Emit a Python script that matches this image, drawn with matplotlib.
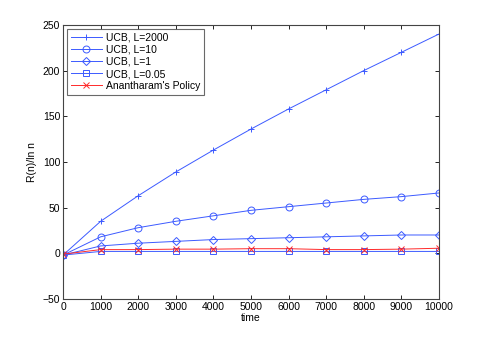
import matplotlib.pyplot as plt

plt.rcParams['font.family'] = ['Liberation Sans', 'DejaVu Sans']

# data
time = [0, 1000, 2000, 3000, 4000, 5000, 6000, 7000, 8000, 9000, 10000]
ucb_2000 = [-2, 35, 63, 89, 113, 136, 158, 179, 200, 220, 240]
ucb_10 = [-2, 18, 28, 35, 41, 47, 51, 55, 59, 62, 66]
ucb_1 = [-2, 8, 11, 13, 15, 16, 17, 18, 19, 20, 20]
ucb_005 = [-2, 2, 2, 2, 2, 2, 2, 2, 2, 2, 2]
anantharam = [-1, 4, 4, 4.5, 4.5, 5, 5, 4, 4, 4.5, 5.5]

blue = '#3c5aff'
red = '#ff2a2a'

fig = plt.figure(figsize=(4.85, 3.37), dpi=100)
ax = fig.add_axes([0.130, 0.113, 0.775, 0.813])

kw = dict(lw=0.7, ms=5, mfc='none', mew=0.7)
ax.plot(time, ucb_2000, marker='+', color=blue, label='UCB, L=2000', **kw)
ax.plot(time, ucb_10, marker='o', color=blue, label='UCB, L=10', **kw)
ax.plot(time, ucb_1, marker='D', color=blue, label='UCB, L=1',
        lw=0.7, ms=4, mfc='none', mew=0.7)
ax.plot(time, ucb_005, marker='s', color=blue, label='UCB, L=0.05', **kw)
ax.plot(time, anantharam, marker='x', color=red, label="Anantharam's Policy", **kw)

ax.set_xlim(0, 10000)
ax.set_ylim(-50, 250)
ax.set_xticks(range(0, 10001, 1000))
ax.set_yticks(range(-50, 251, 50))
ax.tick_params(direction='in', top=True, right=True, labelsize=7.5, length=3, width=0.6, pad=2)
for s in ax.spines.values():
    s.set_linewidth(0.8)
    s.set_color('#444444')
ax.set_xlabel('time', fontsize=7.5, labelpad=1)
ax.set_ylabel('R(n)/ln n', fontsize=7.5, labelpad=4)

leg = ax.legend(loc='upper left', fontsize=7.5, fancybox=False, edgecolor='#444444',
                borderaxespad=0.4, handlelength=3, labelspacing=0.2, borderpad=0.35,
                handletextpad=0.4)
leg.get_frame().set_linewidth(0.8)

fig.savefig('out.png', dpi=100)
